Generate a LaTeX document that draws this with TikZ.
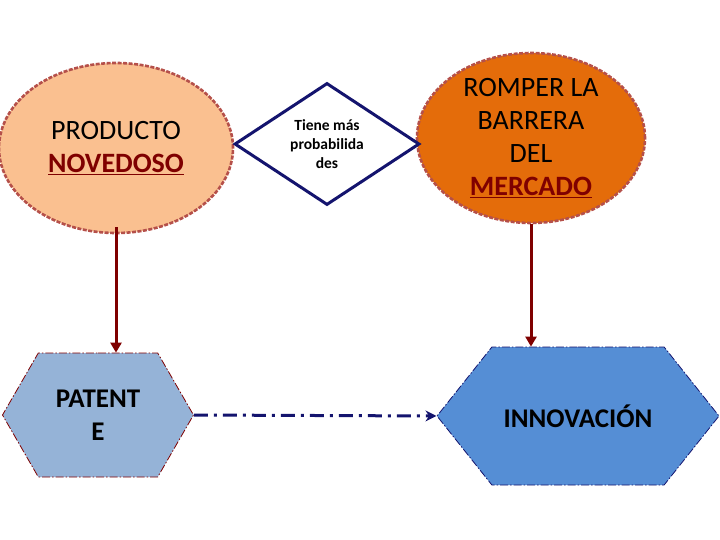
\documentclass[tikz,border=0pt]{standalone}
\usepackage{fontspec}
\setmainfont{Carlito}
\usepackage{tikz}
\usetikzlibrary{shapes.geometric,shapes.symbols}
\usetikzlibrary{arrows.meta,positioning,calc}
\definecolor{peach}{HTML}{FAC090}
\definecolor{naranja}{HTML}{E46C0A}
\definecolor{rojoborde}{HTML}{B5504A}
\definecolor{vino}{HTML}{7F0000}
\definecolor{marino}{HTML}{14146E}
\definecolor{azulclaro}{HTML}{95B3D7}
\definecolor{azul}{HTML}{558ED5}
\tikzset{
  elipse/.style={ellipse,draw=rojoborde,line width=2.6pt,dash pattern=on 4pt off 1.5pt,inner sep=0pt,align=center,font=\fontsize{28}{33}\selectfont},
  hexa/.style={signal,signal to=east and west,signal from=nowhere,inner sep=0pt,align=center,line width=0.8pt,dash pattern=on 8pt off 2pt on 1.5pt off 2pt,font=\fontsize{27}{33}\selectfont\bfseries},
  bajada/.style={-{Triangle[length=10pt,width=11pt]},vino,line width=3pt},
}
\newcommand{\marcado}[1]{\textcolor{vino}{\textbf{\underline{#1}}}}
\begin{document}
\begin{tikzpicture}[x=1pt,y=-1pt]
  \useasboundingbox (0,0) rectangle (720,540);
  \node[elipse,fill=peach,minimum width=234,minimum height=170] (pro) at (116,148) {PRODUCTO\\\marcado{NOVEDOSO}};
  \node[elipse,fill=naranja,minimum width=228,minimum height=170] (rom) at (531,138) {ROMPER LA\\BARRERA\\DEL\\\marcado{MERCADO}};
  \node[diamond,draw=marino,fill=white,line width=3pt,aspect=1.52,minimum width=185,minimum height=122,inner sep=0pt,align=center,font=\fontsize{15.5}{19}\selectfont\bfseries] (tie) at (327,144) {Tiene más\\probabilida\\des};
  \node[hexa,draw=vino,fill=azulclaro,signal pointer angle=120,minimum width=191,minimum height=124] (pat) at (98,415) {PATENT\\E};
  \node[hexa,draw=marino,fill=azul,signal pointer angle=103,minimum width=282,minimum height=138] (inn) at (578,416) {INNOVACIÓN};
  % flechas
  \draw[bajada] ([yshift=7]pro.south) -- (pro.south |- pat.north);
  \draw[bajada] (rom.south) -- (rom.south |- inn.north);
  \draw[-{Stealth[length=11pt,width=11pt]},marino,line width=3pt,dash pattern=on 14pt off 6pt on 3pt off 6pt] (pat.east) -- (inn.west);
\end{tikzpicture}
\end{document}
